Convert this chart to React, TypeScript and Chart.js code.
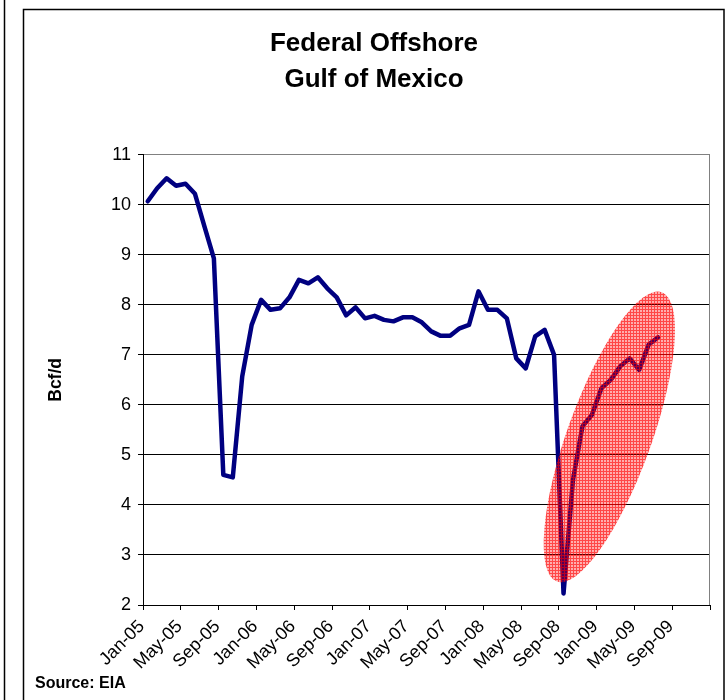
import React, { useEffect, useRef } from 'react';
import { Chart, registerables } from 'chart.js';

Chart.register(...registerables);

// ---- Data ----
const categories = [
  'Jan-05', 'Feb-05', 'Mar-05', 'Apr-05', 'May-05', 'Jun-05', 'Jul-05', 'Aug-05', 'Sep-05', 'Oct-05', 'Nov-05', 'Dec-05',
  'Jan-06', 'Feb-06', 'Mar-06', 'Apr-06', 'May-06', 'Jun-06', 'Jul-06', 'Aug-06', 'Sep-06', 'Oct-06', 'Nov-06', 'Dec-06',
  'Jan-07', 'Feb-07', 'Mar-07', 'Apr-07', 'May-07', 'Jun-07', 'Jul-07', 'Aug-07', 'Sep-07', 'Oct-07', 'Nov-07', 'Dec-07',
  'Jan-08', 'Feb-08', 'Mar-08', 'Apr-08', 'May-08', 'Jun-08', 'Jul-08', 'Aug-08', 'Sep-08', 'Oct-08', 'Nov-08', 'Dec-08',
  'Jan-09', 'Feb-09', 'Mar-09', 'Apr-09', 'May-09', 'Jun-09', 'Jul-09', 'Aug-09', 'Sep-09', 'Oct-09', 'Nov-09', 'Dec-09',
];

// Bcf/d, Jan-05 .. Jul-09
const production = [
  10.07, 10.33, 10.53, 10.38, 10.42, 10.22, 9.57, 8.93, 4.6, 4.55, 6.57, 7.6,
  8.1, 7.9, 7.93, 8.15, 8.5, 8.43, 8.55, 8.33, 8.15, 7.79, 7.95, 7.73,
  7.78, 7.7, 7.67, 7.75, 7.75, 7.65, 7.47, 7.38, 7.38, 7.53, 7.6, 8.27,
  7.9, 7.9, 7.73, 6.93, 6.73, 7.37, 7.5, 7.0, 2.23, 4.5, 5.57, 5.8,
  6.33, 6.5, 6.77, 6.93, 6.7, 7.2, 7.35,
];

const yMin = 2;
const yMax = 11;
const yStep = 1;

const titleLines = ['Federal Offshore', 'Gulf of Mexico'];
const yTitle = 'Bcf/d';
const sourceText = 'Source: EIA';

// Highlight ellipse: major-axis end points in data coords [category index, value]
const ellipseFrom = [43.3, 2.47];
const ellipseTo = [54.4, 8.25];
const ellipseHalfWidthPx = 42;

const FONT = "'Liberation Sans', Arial, Helvetica, sans-serif";

function makePattern(ctx: CanvasRenderingContext2D) {
  const c = document.createElement('canvas');
  c.width = 3;
  c.height = 3;
  const p = c.getContext('2d')!;
  p.clearRect(0, 0, 3, 3);
  p.fillStyle = 'rgba(255,0,0,0.72)';
  p.fillRect(0, 0, 3, 1);
  p.fillRect(0, 1, 1, 2);
  p.fillStyle = 'rgba(255,0,0,0.32)';
  p.fillRect(1, 1, 2, 2);
  return ctx.createPattern(c, 'repeat');
}

const framePlugin = {
  id: 'frame',
  beforeDraw(chart: any) {
    const ctx = chart.ctx as CanvasRenderingContext2D;
    ctx.save();
    ctx.fillStyle = '#fff';
    ctx.fillRect(0, 0, chart.width, chart.height);
    ctx.strokeStyle = '#000';
    ctx.lineWidth = 1.5;
    ctx.beginPath();
    ctx.moveTo(4.5, 0);
    ctx.lineTo(4.5, chart.height);
    ctx.stroke();
    ctx.beginPath();
    ctx.moveTo(23.5, chart.height + 5);
    ctx.lineTo(23.5, 9.5);
    ctx.lineTo(724, 9.5);
    ctx.lineTo(724, chart.height + 5);
    ctx.stroke();
    ctx.restore();
  },
  afterDraw(chart: any) {
    const ctx = chart.ctx as CanvasRenderingContext2D;
    const a = chart.chartArea;
    ctx.save();
    ctx.strokeStyle = '#808080';
    ctx.lineWidth = 1;
    ctx.beginPath();
    ctx.moveTo(Math.round(a.right) - 0.5, a.top);
    ctx.lineTo(Math.round(a.right) - 0.5, a.bottom);
    ctx.stroke();
    ctx.fillStyle = '#000';
    ctx.font = `bold 16px ${FONT}`;
    ctx.textAlign = 'left';
    ctx.textBaseline = 'alphabetic';
    ctx.fillText(sourceText, 35, 688);
    ctx.restore();
  },
};

const ellipsePlugin = {
  id: 'highlightEllipse',
  afterDatasetsDraw(chart: any) {
    const ctx = chart.ctx as CanvasRenderingContext2D;
    const xs = chart.scales.x;
    const ys = chart.scales.y;
    const x1 = xs.getPixelForValue(ellipseFrom[0]);
    const y1 = ys.getPixelForValue(ellipseFrom[1]);
    const x2 = xs.getPixelForValue(ellipseTo[0]);
    const y2 = ys.getPixelForValue(ellipseTo[1]);
    const cx = (x1 + x2) / 2;
    const cy = (y1 + y2) / 2;
    const semiMajor = Math.hypot(x2 - x1, y2 - y1) / 2;
    const rot = Math.atan2(y2 - y1, x2 - x1);
    ctx.save();
    ctx.beginPath();
    ctx.ellipse(cx, cy, semiMajor, ellipseHalfWidthPx, rot, 0, Math.PI * 2);
    ctx.fillStyle = makePattern(ctx) || 'rgba(255,0,0,0.45)';
    ctx.fill();
    ctx.restore();
  },
};

export default function App() {
  const ref = useRef<HTMLCanvasElement>(null);

  useEffect(() => {
    if (!ref.current) return;
    const chart = new Chart(ref.current, {
      type: 'line',
      data: {
        labels: categories,
        datasets: [
          {
            label: 'Federal Offshore Gulf of Mexico',
            data: production,
            borderColor: '#000080',
            backgroundColor: '#000080',
            borderWidth: 4.5,
            pointRadius: 0,
            pointHoverRadius: 0,
            tension: 0,
            borderJoinStyle: 'round',
            borderCapStyle: 'round',
            fill: false,
          },
        ],
      },
      options: {
        responsive: false,
        animation: false,
        events: [],
        layout: { padding: { left: 38, right: 18, top: 0, bottom: 0 } },
        plugins: {
          legend: { display: false },
          tooltip: { enabled: false },
          title: {
            display: true,
            text: titleLines,
            color: '#000',
            font: { family: FONT, size: 26, weight: 'bold', lineHeight: 1.38 },
            padding: { top: 26, bottom: 57 },
          },
        },
        scales: {
          x: {
            type: 'category',
            offset: true,
            afterFit(scale: any) {
              scale.height = 95;
            },
            border: { display: true, color: '#000', width: 1 },
            grid: {
              offset: true,
              drawOnChartArea: false,
              drawTicks: true,
              tickLength: 5,
              color: (c: any) =>
                c.index === undefined || c.type === 'scale' || c.index % 4 === 0 ? '#000' : 'rgba(0,0,0,0)',
              tickColor: (c: any) =>
                c.index === undefined || c.type === 'scale' || c.index % 4 === 0 ? '#000' : 'rgba(0,0,0,0)',
            },
            ticks: {
              autoSkip: false,
              maxRotation: 45,
              minRotation: 45,
              padding: 6,
              labelOffset: -6,
              color: '#000',
              font: { family: FONT, size: 18 },
              callback: function (this: any, val: any, idx: number) {
                return idx % 4 === 0 ? categories[idx] : '';
              },
            },
          },
          y: {
            min: yMin,
            max: yMax,
            afterFit(scale: any) {
              scale.width = 105;
            },
            border: { display: true, color: '#000', width: 1 },
            grid: {
              color: (c: any) => (c.tick && c.tick.value === yMax ? '#808080' : '#000'),
              tickColor: '#000',
              tickLength: 5,
              lineWidth: 1,
            },
            ticks: {
              stepSize: yStep,
              padding: 7,
              color: '#000',
              font: { family: FONT, size: 18 },
            },
            title: {
              display: true,
              text: yTitle,
              color: '#000',
              font: { family: FONT, size: 17.5, weight: 'bold' },
              padding: { top: 8, bottom: 0 },
            },
          },
        },
      },
      plugins: [framePlugin, ellipsePlugin],
    } as any);
    return () => chart.destroy();
  }, []);

  return (
    <div style={{ position: 'absolute', left: 0, top: 0, width: 728, height: 700, background: '#fff' }}>
      <canvas ref={ref} width={728} height={700} style={{ display: 'block', width: 728, height: 700 }} />
    </div>
  );
}
